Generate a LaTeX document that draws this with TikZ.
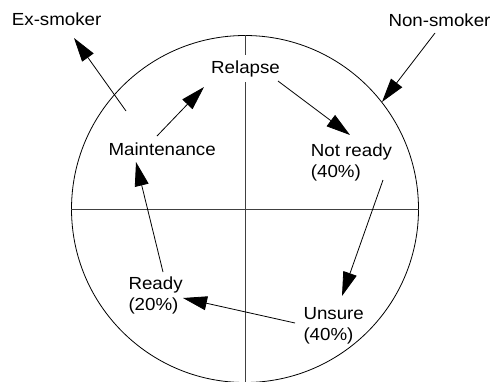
\documentclass[tikz,border=0pt]{standalone}
\usepackage{fontspec}
\setmainfont{Liberation Sans}[FakeStretch=1.07]
\usetikzlibrary{arrows.meta}
\begin{document}
\begin{tikzpicture}[x=1pt,y=-1pt,
  lbl/.style={inner sep=0pt, font=\fontsize{17.5}{21}\selectfont, align=left},
  arr/.style={line width=0.8pt, -{Triangle[length=24pt,width=14pt]}},
  rim/.style={line width=0.8pt},
  axisline/.style={line width=0.9pt, black!75}]
\useasboundingbox (0,0) rectangle (492,381);
\node[circle, draw, rim, minimum size=347pt, inner sep=0pt] (wheel) at (245,209) {};
\draw[axisline] (wheel.west) -- (wheel.east);
\draw[axisline] (wheel.north) -- (wheel.south);

\node[lbl, anchor=base west] (ex) at (11.7,25) {Ex-smoker};
\node[lbl, anchor=base west] (non) at (388.3,26) {Non-smoker};
\node[lbl, anchor=base west, fill=white, inner xsep=1pt, inner ysep=5pt] (relapse) at (210,73) {Relapse};
\node[lbl, anchor=base west] (maint) at (108.3,155) {Maintenance};
\node[lbl, anchor=north west] (notready) at (310.7,143.5) {Not ready\\(40\%)};
\node[lbl, anchor=north west] (ready) at (128.3,276.5) {Ready\\(20\%)};
\node[lbl, anchor=north west] (unsure) at (303.3,307) {Unsure\\(40\%)};

\coordinate (maintOut) at (126,111);
\coordinate (exIn) at (74,38);
\coordinate (maintUp) at (157,136);
\coordinate (relapseIn) at (204,87);
\coordinate (readyOut) at (163,272);
\coordinate (maintIn) at (136,162);
\coordinate (relapseOut) at (278,81);
\coordinate (notreadyIn) at (350,135);
\coordinate (nonOut) at (435,33);
\coordinate (notreadyOut) at (383,180);
\coordinate (unsureIn) at (342,296);
\coordinate (unsureOut) at (295,323);
\coordinate (readyIn) at (183,298);

\draw[arr] (maintOut) -- (exIn);
\draw[arr] (maintUp) -- (relapseIn);
\draw[arr] (readyOut) -- (maintIn);
\draw[arr] (relapseOut) -- (notreadyIn);
\draw[arr] (nonOut) -- (wheel.38.5);
\draw[arr] (notreadyOut) -- (unsureIn);
\draw[arr] (unsureOut) -- (readyIn);
\end{tikzpicture}
\end{document}
